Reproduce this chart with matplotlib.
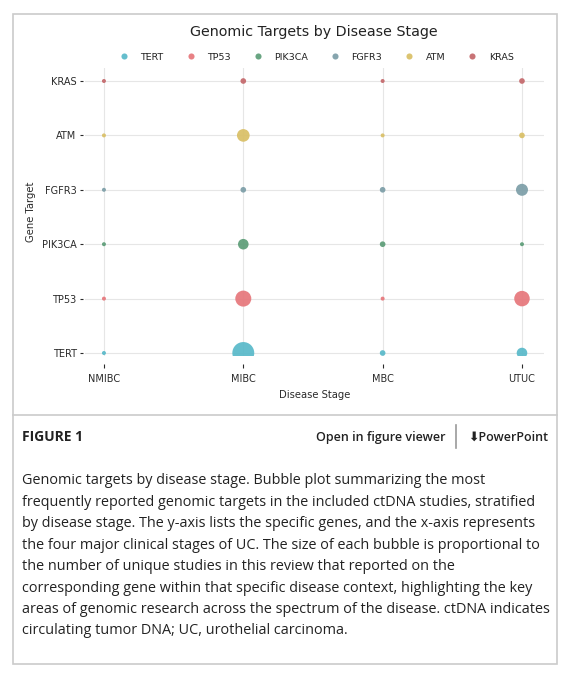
import matplotlib
matplotlib.use("Agg")
import matplotlib.pyplot as plt
from matplotlib.lines import Line2D
from matplotlib.patches import Rectangle
import numpy as np

# Data (studies per gene and disease stage, read from the bubbles)
stages = ["NMIBC", "MIBC", "MBC", "UTUC"]
genes = ["TERT", "TP53", "PIK3CA", "FGFR3", "ATM", "KRAS"]
tert = [1, 30, 2, 7]
tp53 = [1, 16, 1, 15]
pik3ca = [1, 7, 2, 1]
fgfr3 = [1, 2, 2, 9]
atm = [1, 10, 1, 2]
kras = [1, 2, 1, 2]
counts = [tert, tp53, pik3ca, fgfr3, atm, kras]
colors = ["#58b9c9", "#e6767b", "#5c9d77", "#7c9ea7", "#d9bf65", "#c4676a"]

title = "Genomic Targets by Disease Stage"
caption = [
    "Genomic targets by disease stage. Bubble plot summarizing the most",
    "frequently reported genomic targets in the included ctDNA studies, stratified",
    "by disease stage. The y-axis lists the specific genes, and the x-axis represents",
    "the four major clinical stages of UC. The size of each bubble is proportional to",
    "the number of unique studies in this review that reported on the",
    "corresponding gene within that specific disease context, highlighting the key",
    "areas of genomic research across the spectrum of the disease. ctDNA indicates",
    "circulating tumor DNA; UC, urothelial carcinoma.",
]

W, H = 568, 680
fig = plt.figure(figsize=(W / 100, H / 100), dpi=100)


def px(x, y):
    return x / W, 1 - y / H


### Outer frame and divider
fig.patches.append(Rectangle(px(12.5, 664), 544.5 / W, 650 / H, transform=fig.transFigure,
                             fill=False, edgecolor="#cbcbcb", lw=1.2))
fig.add_artist(Line2D([12.5 / W, 557 / W], [1 - 415 / H] * 2, transform=fig.transFigure,
                      color="#cbcbcb", lw=1.2))

### Bubble chart
ax = fig.add_axes([85 / W, 1 - 356 / H, 459 / W, 288 / H])
for i, (gene, vals, c) in enumerate(zip(genes, counts, colors)):
    ax.scatter(np.arange(len(stages)), [i] * len(stages), s=np.array(vals) * 8.3,
               color=c, alpha=0.92, linewidths=0, zorder=3)

ax.set_xlim(-0.136, 3.158)
ax.set_ylim(-0.055, 5.239)
ax.set_xticks(range(len(stages)))
ax.set_xticklabels(stages)
ax.set_yticks(range(len(genes)))
ax.set_yticklabels(genes)
ax.grid(True, color="#e6e6e6", lw=0.8, zorder=0)
ax.set_axisbelow(True)
for side in ["top", "right"]:
    ax.spines[side].set_visible(False)
ax.spines["left"].set_position(("outward", 1.5))
ax.spines["bottom"].set_position(("outward", 6))
ax.spines["left"].set_color("none")
ax.spines["bottom"].set_color("none")
ax.tick_params(axis="both", labelsize=7, colors="#2a2a2a", length=2.5, width=0.8, pad=2)
ax.tick_params(axis="x", length=3, pad=4)
ax.set_xlabel("Disease Stage", fontsize=7.2, color="#2a2a2a", labelpad=4)
ax.set_ylabel("Gene Target", fontsize=7.2, color="#2a2a2a", labelpad=4)

fig.text(*px(314, 32), title, fontsize=10.3, color="#222222", ha="center", va="center")

handles = [Line2D([], [], ls="none", marker="o", markersize=4.4, color=c, alpha=0.92,
                  markeredgewidth=0) for c in colors]
fig.legend(handles, genes, loc="center", bbox_to_anchor=px(314, 57), ncol=6, frameon=False,
           fontsize=6.8, handletextpad=0.75, columnspacing=1.85, labelcolor="#222222",
           borderaxespad=0, borderpad=0)

### Caption area
fig.text(*px(22, 437), "FIGURE 1", fontsize=10, fontweight="bold", family="Open Sans",
         color="#222222", ha="left", va="center")
fig.text(*px(446, 437), "Open in figure viewer", fontsize=9.0, fontweight="semibold",
         family="Open Sans", color="#222222", ha="right", va="center")
fig.add_artist(Line2D([456 / W] * 2, [1 - 425 / H, 1 - 448 / H], transform=fig.transFigure,
                      color="#9a9a9a", lw=1.2))
fig.text(*px(548, 437), "\u2b07PowerPoint", fontsize=9.0, fontweight="semibold",
         family=["Open Sans", "DejaVu Sans"], color="#222222", ha="right", va="center")

for k, line in enumerate(caption):
    fig.text(*px(22, 481 + 21.4 * k), line, fontsize=10.35, family="Open Sans",
             color="#222222", ha="left", va="center")

fig.savefig("out.png", dpi=100, facecolor="white")
